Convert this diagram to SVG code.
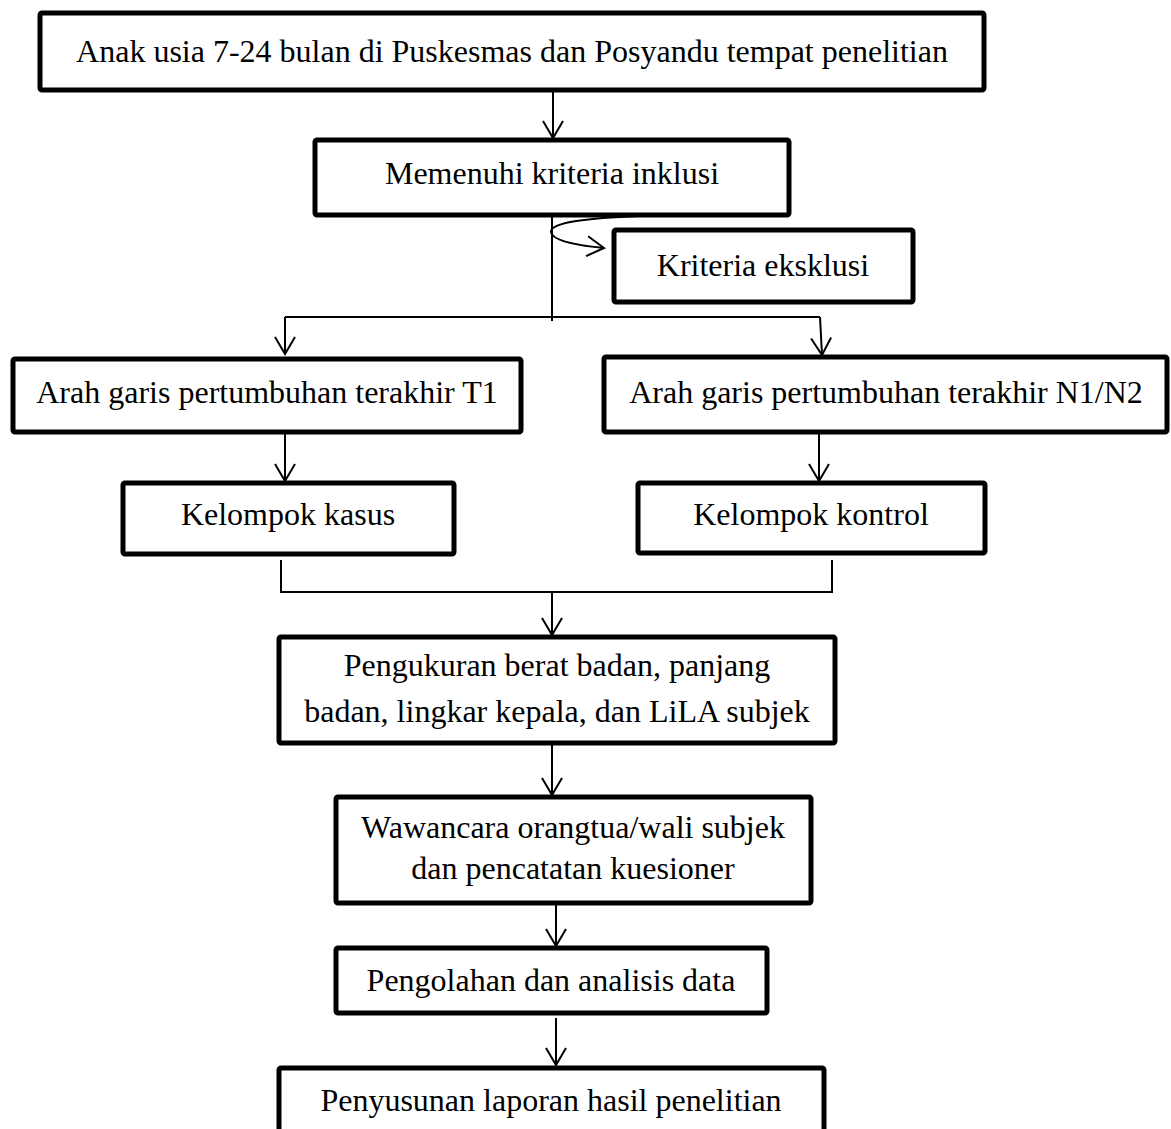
<svg xmlns="http://www.w3.org/2000/svg" width="1171" height="1129" viewBox="0 0 1171 1129">
<style>
.box{fill:#fff;stroke:#000;stroke-width:5;stroke-linejoin:round}
.t{font-family:"Liberation Serif","Times New Roman",serif;font-size:32px;fill:#000;text-anchor:middle}
.c{fill:none;stroke:#000;stroke-width:2}
.a{fill:none;stroke:#000;stroke-width:2;marker-end:url(#ah)}
</style>
<defs>
<marker id="ah" markerUnits="userSpaceOnUse" viewBox="0 0 20 24" refX="18" refY="12" markerWidth="20" markerHeight="24" orient="auto">
<path d="M1,2 L18,12 L1,22" fill="none" stroke="#000" stroke-width="2"/>
</marker>
</defs>
<rect width="1171" height="1129" fill="#fff"/>
<g id="connectors">
<line class="a" x1="553" y1="90" x2="553" y2="138"/>
<line class="c" x1="552" y1="215" x2="552" y2="321"/>
<path class="a" d="M640 216 C590 218 550 222 551 232 C552 242 585 246 604 248"/>
<line class="c" x1="285" y1="317" x2="820" y2="317"/>
<line class="a" x1="285" y1="317" x2="285" y2="354"/>
<line class="a" x1="820" y1="317" x2="822" y2="355"/>
<line class="a" x1="285" y1="432" x2="285" y2="481"/>
<line class="a" x1="819" y1="432" x2="819" y2="481"/>
<polyline class="c" points="281,560 281,592 832,592 832,560"/>
<line class="a" x1="552" y1="592" x2="552" y2="635"/>
<line class="a" x1="552" y1="743" x2="552" y2="795"/>
<line class="a" x1="556" y1="903" x2="556" y2="946"/>
<line class="a" x1="556" y1="1018" x2="556" y2="1065"/>
</g>
<g id="n1"><rect class="box" x="40" y="13" width="944" height="77" rx="2"/><text class="t" x="512" y="62">Anak usia 7-24 bulan di Puskesmas dan Posyandu tempat penelitian</text></g>
<g id="n2"><rect class="box" x="315" y="140" width="474" height="75" rx="2"/><text class="t" x="552" y="184">Memenuhi kriteria inklusi</text></g>
<g id="n3"><rect class="box" x="614" y="230" width="299" height="72" rx="2"/><text class="t" x="763" y="276">Kriteria eksklusi</text></g>
<g id="n4"><rect class="box" x="13" y="359" width="508" height="73" rx="2"/><text class="t" x="267" y="403">Arah garis pertumbuhan terakhir T1</text></g>
<g id="n5"><rect class="box" x="604" y="357" width="563" height="75" rx="2"/><text class="t" x="886" y="403">Arah garis pertumbuhan terakhir N1/N2</text></g>
<g id="n6"><rect class="box" x="123" y="483" width="331" height="71" rx="2"/><text class="t" x="288" y="525">Kelompok kasus</text></g>
<g id="n7"><rect class="box" x="638" y="483" width="347" height="70" rx="2"/><text class="t" x="811" y="525">Kelompok kontrol</text></g>
<g id="n8"><rect class="box" x="279" y="637" width="556" height="106" rx="2"/><text class="t" x="557" y="676">Pengukuran berat badan, panjang</text><text class="t" x="557" y="722">badan, lingkar kepala, dan LiLA subjek</text></g>
<g id="n9"><rect class="box" x="336" y="797" width="475" height="106" rx="2"/><text class="t" x="573" y="838">Wawancara orangtua/wali subjek</text><text class="t" x="573" y="879">dan pencatatan kuesioner</text></g>
<g id="n10"><rect class="box" x="336" y="948" width="431" height="65" rx="2"/><text class="t" x="551" y="991">Pengolahan dan analisis data</text></g>
<g id="n11"><rect class="box" x="279" y="1068" width="545" height="80" rx="2"/><text class="t" x="551" y="1111">Penyusunan laporan hasil penelitian</text></g>
</svg>
